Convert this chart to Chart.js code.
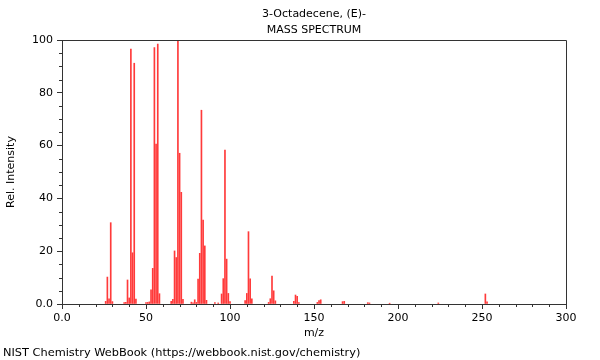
<!DOCTYPE html>
<html>
<head>
<meta charset="utf-8">
<script src="https://cdn.jsdelivr.net/npm/chart.js@4/dist/chart.umd.min.js"></script>
<style>
html,body{margin:0;padding:0;background:#fff;}
#wrap{width:600px;height:360px;position:relative;}
</style>
</head>
<body>
<div id="wrap"><canvas id="c" width="600" height="360"></canvas></div>
<script>
const titleLines = ["3-Octadecene, (E)-", "MASS SPECTRUM"];
const xTitle = "m/z";
const yTitle = "Rel. Intensity";
const footer = "NIST Chemistry WebBook (https://webbook.nist.gov/chemistry)";

const mz = [26,27,28,29,30,37,38,39,40,41,42,43,44,50,51,52,53,54,55,56,57,58,
  65,66,67,68,69,70,71,72,77,78,79,80,81,82,83,84,85,86,91,93,95,96,97,98,99,100,
  109,110,111,112,113,123,124,125,126,127,138,139,140,141,152,153,154,167,168,182,183,195,224,252,253];
const intensity = [1.0,10.2,2.0,30.8,0.9,0.5,0.6,9.1,2.3,96.6,19.4,91.2,1.9,0.5,0.6,0.8,5.4,13.5,97.1,60.6,98.5,3.9,
  1.0,1.8,20.1,17.6,100,57.1,42.3,1.8,0.7,0.4,1.6,0.6,9.4,19.2,73.4,31.8,22.0,1.4,0.5,0.4,3.8,9.6,58.3,17.0,4.0,0.9,
  1.3,4.0,27.4,9.5,2.0,0.6,2.0,10.6,5.0,1.2,1.0,3.4,2.9,0.5,0.6,1.3,1.6,0.9,1.0,0.5,0.4,0.3,0.4,3.8,0.8];

const xMajorTicks = [0,50,100,150,200,250,300];
const yMajorTicks = [0,20,40,60,80,100];

const FONT = "DejaVu Sans";
const points = mz.map((m,i)=>({x:m, y:intensity[i]}));

const decor = {
  id:'decor',
  afterDraw(chart){
    const ctx = chart.ctx, a = chart.chartArea;
    const xs = chart.scales.x, ys = chart.scales.y;
    ctx.save();
    ctx.strokeStyle = '#333';
    ctx.lineWidth = 1;
    ctx.beginPath();
    ctx.moveTo(Math.round(a.left)+0.5, Math.round(a.top)+0.5);
    ctx.lineTo(Math.round(a.right)+0.5, Math.round(a.top)+0.5);
    ctx.lineTo(Math.round(a.right)+0.5, Math.round(a.bottom)+0.5);
    ctx.stroke();
    ctx.beginPath();
    for(let v=0; v<=300; v+=10){
      if(v%50===0) continue;
      const px = Math.round(xs.getPixelForValue(v))+0.5;
      ctx.moveTo(px, a.bottom); ctx.lineTo(px, a.bottom+3);
    }
    for(let v=0; v<=100; v+=5){
      if(v%20===0) continue;
      const py = Math.round(ys.getPixelForValue(v))+0.5;
      ctx.moveTo(a.left, py); ctx.lineTo(a.left-3, py);
    }
    ctx.stroke();
    ctx.fillStyle = '#000';
    ctx.font = '11px "' + FONT + '"';
    ctx.textAlign = 'center';
    ctx.textBaseline = 'middle';
    const cx = (a.left + a.right)/2;
    ctx.fillText(titleLines[0], cx, 14);
    ctx.fillText(titleLines[1], cx, 30);
    ctx.fillText(xTitle, cx, 333);
    ctx.save();
    ctx.translate(11, (a.top + a.bottom)/2);
    ctx.rotate(-Math.PI/2);
    ctx.fillText(yTitle, 0, 0);
    ctx.restore();
    ctx.font = '11.35px "' + FONT + '"';
    ctx.textAlign = 'left';
    ctx.fillText(footer, 3, 353);
    ctx.restore();
  }
};

new Chart(document.getElementById('c'), {
  type:'bar',
  data:{ datasets:[{ data: points, backgroundColor:'#ff3a3a', borderWidth:0, barThickness:1 }]},
  options:{
    responsive:false,
    animation:false,
    devicePixelRatio:1,
    layout:{ padding:{ left:0, right:34, top:40, bottom:0 } },
    plugins:{ legend:{display:false}, tooltip:{enabled:false}, title:{display:false} },
    scales:{
      x:{
        type:'linear', min:0, max:300, offset:false,
        afterBuildTicks(s){ s.ticks = xMajorTicks.map(v=>({value:v})); },
        afterFit(s){ s.height = 56; },
        grid:{ display:true, drawOnChartArea:false, drawTicks:true, tickLength:5, color:'#333', offset:false },
        border:{ display:true, color:'#333' },
        ticks:{ color:'#000', font:{family:FONT, size:11}, padding:3, maxRotation:0,
          callback:(v)=> v===0 ? '0.0' : String(v) }
      },
      y:{
        min:0, max:100,
        afterBuildTicks(s){ s.ticks = yMajorTicks.map(v=>({value:v})); },
        afterFit(s){ s.width = 62; },
        grid:{ display:true, drawOnChartArea:false, drawTicks:true, tickLength:5, color:'#333' },
        border:{ display:true, color:'#333' },
        ticks:{ color:'#000', font:{family:FONT, size:11}, padding:4,
          callback:(v)=> v===0 ? '0.0' : String(v) }
      }
    }
  },
  plugins:[decor]
});
</script>
</body>
</html>
